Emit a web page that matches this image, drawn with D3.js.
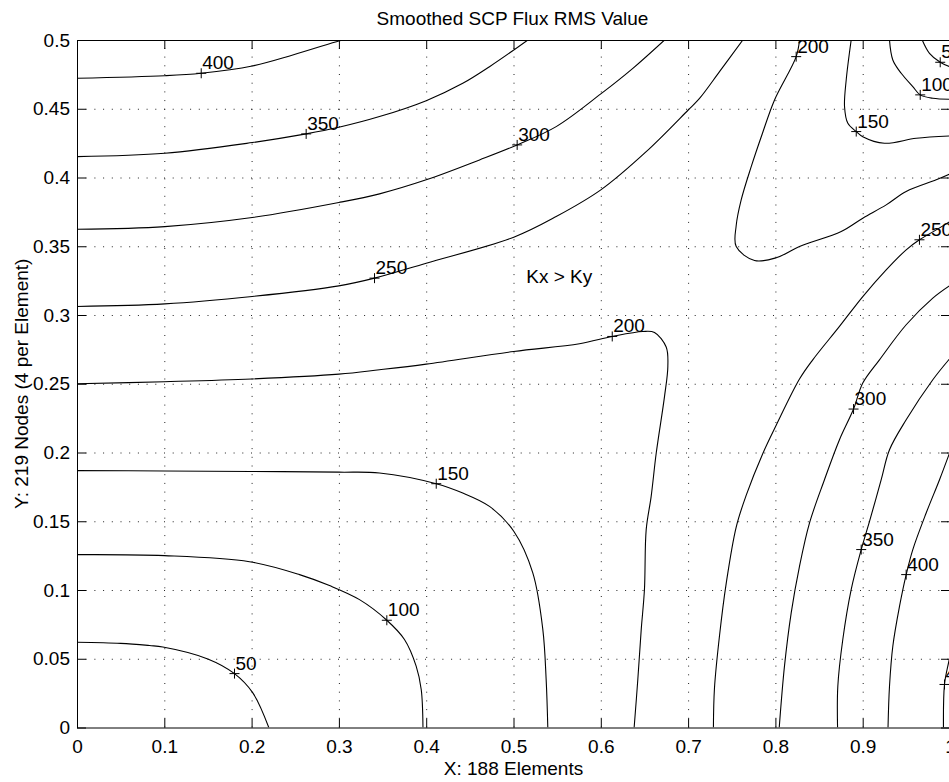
<!DOCTYPE html>
<html><head><meta charset="utf-8">
<script src="https://cdn.jsdelivr.net/npm/d3@7"></script>
<style>
html,body{margin:0;padding:0;background:#fff;overflow:hidden}
svg{display:block}
text{font-family:"Liberation Sans",Arial,Helvetica,sans-serif;fill:#000}
</style></head><body>
<script>
// ---------- data ----------
const xTicks = [0,0.1,0.2,0.3,0.4,0.5,0.6,0.7,0.8,0.9,1];
const xTickLabels = ["0","0.1","0.2","0.3","0.4","0.5","0.6","0.7","0.8","0.9","1"];
const yTicks = [0,0.05,0.1,0.15,0.2,0.25,0.3,0.35,0.4,0.45,0.5];
const yTickLabels = ["0","0.05","0.1","0.15","0.2","0.25","0.3","0.35","0.4","0.45","0.5"];

const titleText = "Smoothed SCP Flux RMS Value";
const xLabelText = "X: 188 Elements";
const yLabelText = "Y: 219 Nodes (4 per Element)";
const noteText = "Kx > Ky";
const notePos = [0.5146, 0.3234];

// contour polylines [x, y]
const c400a = [[0,0.4722],[0.1005,0.474],[0.1423,0.4758],[0.2007,0.4811],[0.2472,0.4891],[0.2999,0.4993],[0.3045,0.5]];
const c350a = [[0,0.4152],[0.1006,0.4176],[0.2007,0.4254],[0.2625,0.4317],[0.2999,0.4365],[0.3465,0.4443],[0.4,0.4559],[0.4419,0.4685],[0.4725,0.4806],[0.5003,0.4927],[0.5164,0.5]];
const c300a = [[0,0.3624],[0.1006,0.3643],[0.2007,0.3709],[0.2999,0.3818],[0.3465,0.3881],[0.4,0.3983],[0.4611,0.4128],[0.5042,0.4237],[0.5489,0.437],[0.6,0.4608],[0.6367,0.4794],[0.673,0.5]];
const c250a = [[0,0.3062],[0.1006,0.3081],[0.2007,0.3135],[0.2999,0.3212],[0.3408,0.3268],[0.4,0.3377],[0.5003,0.3566],[0.5489,0.3716],[0.6,0.391],[0.652,0.4188],[0.7001,0.4491],[0.7131,0.4575],[0.736,0.477],[0.7627,0.5]];
const c200a = [[0,0.25],[0.1,0.2515],[0.2,0.2535],[0.3,0.257],[0.3465,0.2602],[0.4,0.2643],[0.5003,0.2735],[0.5756,0.2791],[0.6131,0.2844],[0.6481,0.288],[0.6615,0.2873],[0.6749,0.2767],[0.6768,0.2626],[0.673,0.2408],[0.6635,0.1996],[0.6577,0.1681],[0.652,0.1439],[0.65,0.1003],[0.6463,0.0712],[0.6424,0.0349],[0.6382,0]];
const c150a = [[0,0.1868],[0.1,0.1866],[0.2,0.1862],[0.3,0.1857],[0.3465,0.1851],[0.4115,0.1773],[0.4419,0.1705],[0.4725,0.1608],[0.5003,0.1427],[0.5221,0.1124],[0.5336,0.0712],[0.5374,0.0349],[0.5393,0]];
const c100a = [[0,0.1257],[0.1002,0.125],[0.1976,0.1206],[0.2549,0.1112],[0.2892,0.1032],[0.3236,0.093],[0.3549,0.078],[0.3751,0.064],[0.3885,0.0446],[0.3943,0.0276],[0.3963,0]];
const c50a  = [[0,0.062],[0.05,0.0612],[0.083,0.0596],[0.0983,0.0586],[0.1498,0.0499],[0.1804,0.0392],[0.2014,0.0252],[0.2197,0]];
const c200b = [[0.8276,0.5],[0.8238,0.4879],[0.799,0.4564],[0.7852,0.4322],[0.7723,0.4079],[0.7608,0.3837],[0.7551,0.3651],[0.7551,0.3498],[0.7761,0.3396],[0.8009,0.3416],[0.8276,0.3498],[0.8754,0.3607],[0.9001,0.3704],[0.9269,0.3801],[0.9498,0.3898],[0.9842,0.3983],[1.0,0.4026]];
const c150b = [[0.8868,0.5],[0.8811,0.4709],[0.8792,0.4515],[0.883,0.4394],[0.8926,0.4334],[0.9001,0.4297],[0.9249,0.4249],[0.9613,0.4285],[1.0,0.4302]];
const c100b = [[0.9307,0.5],[0.9345,0.4855],[0.9441,0.4758],[0.9574,0.4661],[0.9659,0.4601],[0.9803,0.4576],[1.0,0.4569]];
const c50b  = [[0.9682,0.5],[0.9765,0.4903],[0.9888,0.4838],[1.0,0.4805]];
const c250b = [[1.0,0.368],[0.9842,0.3619],[0.965,0.3547],[0.9498,0.3474],[0.9269,0.3328],[0.9001,0.3134],[0.8734,0.2917],[0.8428,0.2674],[0.8276,0.2534],[0.8009,0.2198],[0.7856,0.1993],[0.7665,0.1688],[0.7551,0.1458],[0.7437,0.105],[0.736,0.0669],[0.7302,0.0285],[0.729,0]];
const c300b = [[1.0,0.3215],[0.9803,0.3123],[0.9498,0.2929],[0.9192,0.2674],[0.9001,0.2505],[0.8895,0.2316],[0.8734,0.2093],[0.8562,0.1802],[0.8391,0.1488],[0.8276,0.1172],[0.8181,0.0834],[0.8104,0.0446],[0.8044,0]];
const c350b = [[1.0,0.2685],[0.9803,0.2529],[0.9498,0.2238],[0.9307,0.202],[0.9212,0.1802],[0.9078,0.1499],[0.8983,0.1294],[0.8868,0.1003],[0.8772,0.064],[0.8715,0.03],[0.8712,0]];
const c400b = [[1.0,0.2005],[0.988,0.1802],[0.9727,0.156],[0.9574,0.1294],[0.9498,0.1112],[0.9422,0.0882],[0.9345,0.0591],[0.9307,0.03],[0.929,0]];
const c450b = [[1.0,0.052],[0.9983,0.047],[0.9937,0.0313],[0.9925,0]];

const contourLines = [
  {level:400, pts:c400a},{level:350, pts:c350a},{level:300, pts:c300a},{level:250, pts:c250a},
  {level:200, pts:c200a},{level:150, pts:c150a},{level:100, pts:c100a},{level:50, pts:c50a},
  {level:200, pts:c200b},{level:150, pts:c150b},{level:100, pts:c100b},{level:50, pts:c50b},
  {level:250, pts:c250b},{level:300, pts:c300b},{level:350, pts:c350b},{level:400, pts:c400b},{level:450, pts:c450b}
];

// label anchor points [level, x, y]
const contourLabels = [
  [400,0.1423,0.4758],[350,0.2625,0.4317],[300,0.5042,0.4237],[250,0.3408,0.3268],
  [200,0.6131,0.2844],[150,0.4115,0.1773],[100,0.3549,0.078],[50,0.1804,0.0392],
  [200,0.8238,0.4879],[150,0.8926,0.4334],[100,0.9659,0.4601],[50,0.9888,0.4838],
  [250,0.965,0.3547],[300,0.8895,0.2316],[350,0.8983,0.1294],[400,0.9498,0.1112],[450,0.9937,0.0313]
];

// ---------- drawing ----------
const W = 949, H = 782;
const svg = d3.select("body").append("svg").attr("width", W).attr("height", H);
const x = d3.scaleLinear().domain([0,1]).range([77, 950]);
const y = d3.scaleLinear().domain([0,0.5]).range([727.5, 40]);
const FS = 19;

svg.append("defs").append("clipPath").attr("id","clip")
  .append("rect").attr("x", x(0)).attr("y", y(0.5)).attr("width", x(1)-x(0)).attr("height", y(0)-y(0.5));

// grid
const gridH = y(0) - y(0.5), gridW = x(1) - x(0);
const gx = svg.append("g").attr("transform", `translate(0,${y(0)})`)
  .call(d3.axisBottom(x).tickValues(xTicks.slice(1,-1)).tickSize(-gridH).tickFormat(""));
const gy = svg.append("g").attr("transform", `translate(${x(0)},0)`)
  .call(d3.axisLeft(y).tickValues(yTicks.slice(1,-1)).tickSize(-gridW).tickFormat(""));
[gx, gy].forEach(g => {
  g.select(".domain").remove();
  g.selectAll(".tick line").attr("stroke","#222").attr("stroke-width",1).attr("stroke-dasharray","1,7.7");
});

// contours
const line = d3.line().x(d => x(d[0])).y(d => y(d[1])).curve(d3.curveCatmullRom.alpha(0.5));
const plot = svg.append("g").attr("clip-path","url(#clip)");
plot.selectAll("path.c").data(contourLines).enter().append("path")
  .attr("class","c").attr("d", d => line(d.pts))
  .attr("fill","none").attr("stroke","#000").attr("stroke-width",1.1).attr("stroke-linejoin","round");

// label markers and text
const lab = svg.append("g");
contourLabels.forEach(([lv, lx, ly]) => {
  const px = x(lx), py = y(ly);
  lab.append("path").attr("d", `M${px-5},${py}H${px+5}M${px},${py-5}V${py+5}`)
    .attr("stroke","#000").attr("stroke-width",1);
  lab.append("text").attr("x", px+1).attr("y", py-4).attr("font-size", FS).text(lv);
});

// note
svg.append("text").attr("x", x(notePos[0])).attr("y", y(notePos[1])).attr("font-size", FS).text(noteText);

// axes (inward ticks on all sides)
const TL = 9;
function styleAxis(g){
  g.select(".domain").remove();
  g.selectAll(".tick line").attr("stroke","#000").attr("stroke-width",1);
  g.selectAll(".tick text").attr("font-size", FS).attr("font-family",'"Liberation Sans",Arial,Helvetica,sans-serif').attr("fill","#000");
}
const axB = svg.append("g").attr("transform", `translate(0,${y(0)})`)
  .call(d3.axisBottom(x).tickValues(xTicks).tickFormat((d,i)=>xTickLabels[i]).tickSizeInner(-TL).tickSizeOuter(0).tickPadding(12));
styleAxis(axB);
const axT = svg.append("g").attr("transform", `translate(0,${y(0.5)})`)
  .call(d3.axisTop(x).tickValues(xTicks).tickFormat("").tickSizeInner(-TL).tickSizeOuter(0));
styleAxis(axT);
const axL = svg.append("g").attr("transform", `translate(${x(0)},0)`)
  .call(d3.axisLeft(y).tickValues(yTicks).tickFormat((d,i)=>yTickLabels[i]).tickSizeInner(-TL).tickSizeOuter(0).tickPadding(7));
styleAxis(axL);
const axR = svg.append("g").attr("transform", `translate(${x(1)},0)`)
  .call(d3.axisRight(y).tickValues(yTicks).tickFormat("").tickSizeInner(-TL).tickSizeOuter(0));
styleAxis(axR);

// box
svg.append("rect").attr("x", x(0)+0.5).attr("y", y(0.5)+0.5).attr("width", x(1)-x(0)).attr("height", y(0)-y(0.5))
  .attr("fill","none").attr("stroke","#000").attr("stroke-width",1);

// titles
const cx = (x(0)+x(1))/2;
svg.append("text").attr("x", cx-1).attr("y", 25).attr("text-anchor","middle").attr("font-size", FS).text(titleText);
svg.append("text").attr("x", cx).attr("y", 775).attr("text-anchor","middle").attr("font-size", FS).text(xLabelText);
svg.append("text").attr("transform", `translate(28,${(y(0)+y(0.5))/2}) rotate(-90)`)
  .attr("text-anchor","middle").attr("font-size", FS).text(yLabelText);
</script>
</body></html>
